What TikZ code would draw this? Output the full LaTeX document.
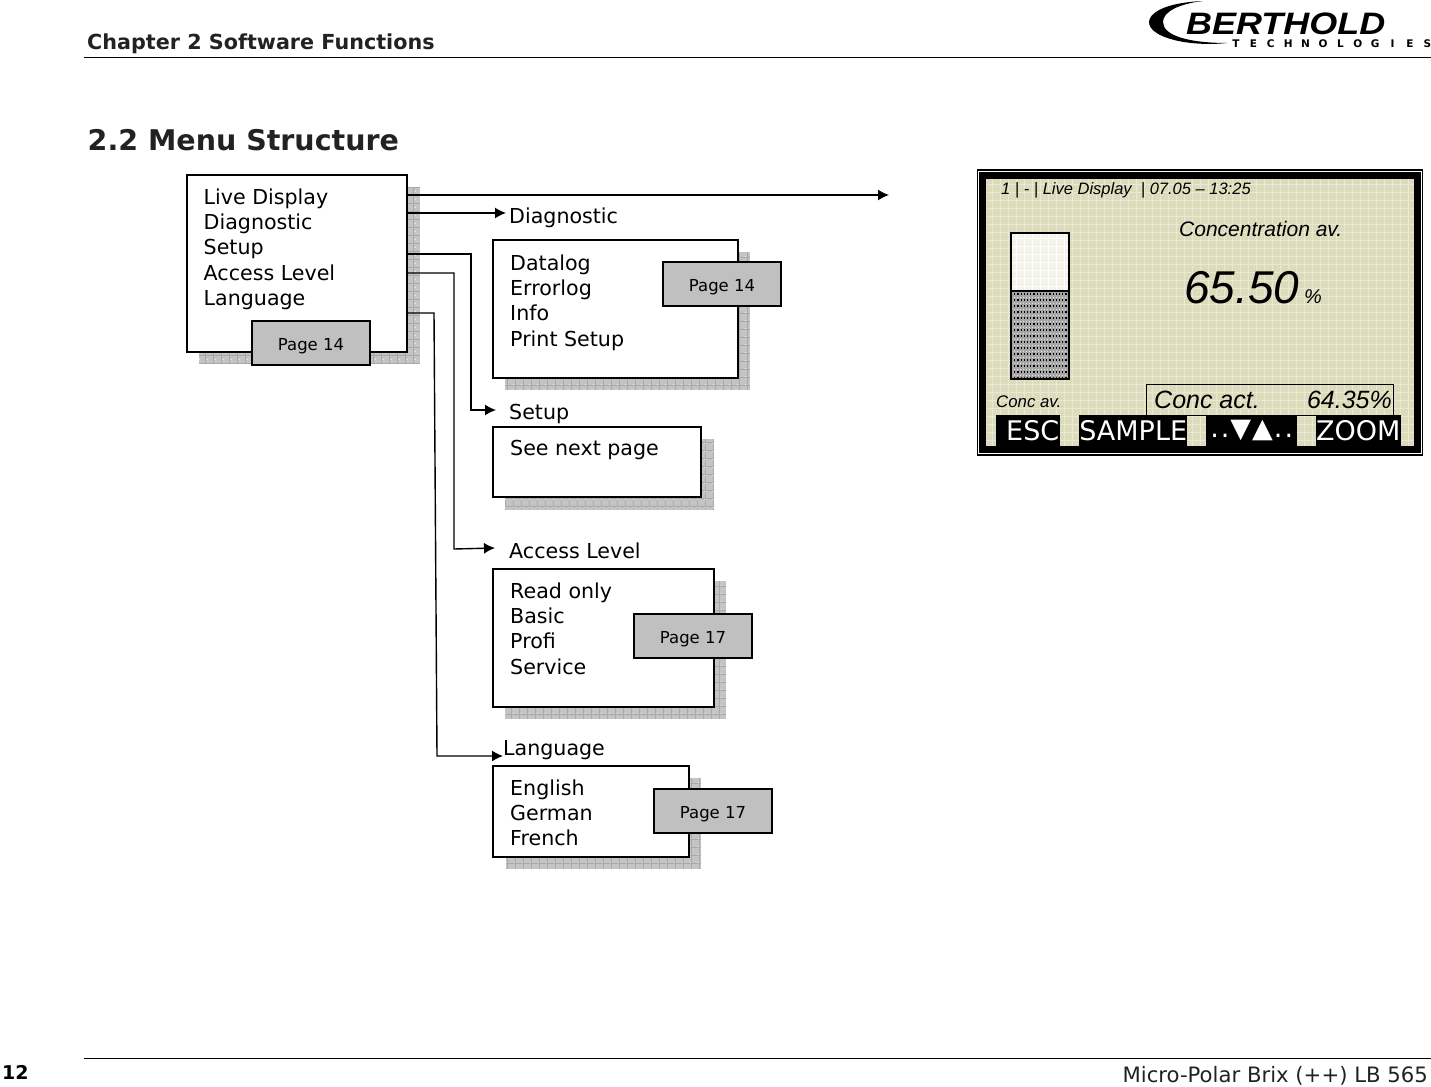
\documentclass[tikz,border=0pt]{standalone}
\usepackage{fontspec}
\setmainfont{DejaVu Sans}
\newfontfamily\lcdfont{Liberation Sans}
\usetikzlibrary{arrows.meta,calc}
\definecolor{shadowgray}{HTML}{C4C4C4}
\definecolor{pagegray}{HTML}{C0C0C0}
\definecolor{lcdgreen}{HTML}{DCDCBC}
\definecolor{headgray}{HTML}{222222}
\begin{document}
\begin{tikzpicture}[x=1pt,y=-1pt,
		menubox/.style={draw,line width=2pt,outer sep=0pt,fill=white,anchor=north west,inner sep=0pt},
		shadowbox/.style={fill=shadowgray,anchor=north west,inner sep=0pt,
				path picture={\draw[black!14!shadowgray,line width=.5pt,step=8pt]
						(path picture bounding box.south west) grid (path picture bounding box.north east);
					\foreach \r in {4,12,...,180}
					\draw[white!70!shadowgray,line width=1pt,dash pattern=on 1pt off 7pt]
					($(path picture bounding box.north west)+(0,\r)$) -- ($(path picture bounding box.north east)+(0,\r)$);}},
		pagebox/.style={draw,line width=1.6pt,outer sep=0pt,fill=pagegray,minimum width=118pt,minimum height=44pt,
				inner sep=0pt,text height=15pt,text depth=0pt,font=\fontsize{16.5}{18}\selectfont,text=black,anchor=north west},
		menutext/.style={anchor=north west,align=left,inner sep=0pt,
				font=\fontsize{20.6}{25.3}\selectfont},
		heading/.style={anchor=base west,inner sep=0pt,font=\fontsize{20.6}{24}\selectfont},
		conn/.style={line width=1.4pt,-{Latex[length=11pt,width=11pt]}},
		lcdtext/.style={anchor=base west,inner sep=0pt},
		softkey/.style={fill=black,text=white,anchor=north west,inner sep=0pt,minimum height=31pt,
				font=\fontsize{27}{30}\selectfont}]
	\useasboundingbox (0,0) rectangle (1431,1086);

	% page head and foot
	\node[anchor=base west,inner sep=0pt,text=headgray,font=\fontsize{20.7}{24}\bfseries\selectfont] (chapter) at (87,50) {Chapter 2 Software Functions};
	\node[anchor=base west,inner sep=0pt,text=headgray,font=\fontsize{28.5}{34}\bfseries\selectfont] (section) at (87.5,151) {2.2 Menu Structure};
	\node[anchor=base west,inner sep=0pt,font=\fontsize{19}{24}\bfseries\selectfont] (pageno) at (2,1079) {12};
	\node[anchor=base east,inner sep=0pt,text=headgray,font=\fontsize{21.2}{24}\selectfont] (manual) at (1428,1082) {Micro-Polar Brix (++) LB 565};
	\draw[line width=.8pt] (84,57) -- (1431,57);
	\draw[line width=.8pt] (84,1058) -- (1431,1058);

	% logo
	\fill (1203,1) .. controls (1160,3) and (1149,15) .. (1149,22)
	.. controls (1149,38) and (1190,47) .. (1227,43)
	.. controls (1190,43) and (1163,36) .. (1163,22)
	.. controls (1163,12) and (1178,4) .. (1203,1);
	\node[anchor=base west,inner sep=0pt,font=\lcdfont\bfseries\itshape\fontsize{31}{34}\selectfont] (logoname) at (1186,35) {\scalebox{1.16}[1]{BERTHOLD}};
	\foreach \c [count=\i from 0] in {T,E,C,H,N,O,L,O,G,I,E,S}
		\node[inner sep=0pt,font=\fontsize{10.5}{11}\bfseries\selectfont] (logo\i) at (1236+17.4*\i,43.5) {\c};

	% menu boxes with their shadows
	\node[shadowbox,minimum width=221pt,minimum height=177pt] (mainshadow) at (199,187) {};
	\node[menubox,minimum width=220pt,minimum height=177pt] (mainbox) at (187,175) {};
	\node[menutext] (maintext) at (203.5,188.5) {Live Display\\Diagnostic\\Setup\\Access Level\\Language};
	\node[pagebox] (mainpage) at (252,321) {Page 14};

	\node[shadowbox,minimum width=245pt,minimum height=138pt] (diagshadow) at (505,252) {};
	\node[menubox,minimum width=245pt,minimum height=138pt] (diagbox) at (493,240) {};
	\node[menutext] (diagtext) at (510,254.5) {Datalog\\Errorlog\\Info\\Print Setup};
	\node[pagebox] (diagpage) at (663,262) {Page 14};
	\node[heading] (diaghead) at (509,223) {Diagnostic};

	\node[shadowbox,minimum width=209pt,minimum height=71pt] (setupshadow) at (505,439) {};
	\node[menubox,minimum width=208pt,minimum height=70pt] (setupbox) at (493,427) {};
	\node[menutext] (setuptext) at (510,440.5) {See next page};
	\node[heading] (setuphead) at (509,419) {Setup};

	\node[shadowbox,minimum width=221pt,minimum height=138pt] (accshadow) at (505,581) {};
	\node[menubox,minimum width=221pt,minimum height=138pt] (accbox) at (493,569) {};
	\node[menutext] (acctext) at (510,582.5) {Read only\\Basic\\Profi\\Service};
	\node[pagebox] (accpage) at (634,614) {Page 17};
	\node[heading] (acchead) at (509,558) {Access Level};

	\node[shadowbox,minimum width=195pt,minimum height=91pt] (langshadow) at (506,778) {};
	\node[menubox,minimum width=196pt,minimum height=91pt] (langbox) at (493,766) {};
	\node[menutext] (langtext) at (510,779.5) {English\\German\\French};
	\node[pagebox] (langpage) at (654,789) {Page 17};
	\node[heading] (langhead) at (503,755) {Language};

	% connectors
	\coordinate (liveout) at (mainbox.east |- 0,195);
	\coordinate (diagout) at (mainbox.east |- 0,213);
	\coordinate (setupout) at (mainbox.east |- 0,254);
	\coordinate (accout) at (mainbox.east |- 0,273);
	\coordinate (langout) at (mainbox.east |- 0,313);
	\coordinate (liveend) at (889,195);
	\coordinate (diagend) at (506,213);
	\coordinate (setupend) at (496,410);
	\coordinate (accend) at (495,548);
	\coordinate (langend) at (503,756);
	\draw[conn] (liveout) -- (liveend);
	\draw[conn] (diagout) -- (diagend);
	\draw[conn] (setupout) -- (471,254) -- (471,410) -- (setupend);
	\draw[conn] (accout) -- (454,273) -- (454,549) -- (accend);
	\draw[conn] (langout) -- (434,313) -- (437,756) -- (langend);

	% display
	\node[draw,line width=1.5pt,outer sep=0pt,fill=white,anchor=north west,inner sep=0pt,minimum width=445pt,minimum height=285pt] (lcdframe) at (977.5,170) {};
	\node[draw,line width=7pt,outer sep=0pt,anchor=north west,inner sep=0pt,minimum width=435pt,minimum height=274pt,fill=lcdgreen,
		path picture={\draw[white!35!lcdgreen,line width=1pt,step=8pt]
				(path picture bounding box.south west) grid (path picture bounding box.north east);}] (lcd) at (982.5,175.5) {};
	\node[lcdtext,font=\lcdfont\itshape\fontsize{16.5}{18}\selectfont] (lcdhead) at (1001,194) {1 | - | Live Display~ | 07.05 – 13:25};
	\node[lcdtext,font=\lcdfont\itshape\fontsize{21}{24}\selectfont] (lcdtitle) at (1179,236) {Concentration av.};
	\node[lcdtext,font=\lcdfont\itshape\fontsize{46}{50}\selectfont] (lcdvalue) at (1184,303) {65.50};
	\node[lcdtext,font=\lcdfont\itshape\fontsize{20}{24}\selectfont] (lcdunit) at (1304,303) {\%};
	\node[draw,line width=1.5pt,outer sep=0pt,anchor=north west,inner sep=0pt,minimum width=58pt,minimum height=58pt,fill=white!70!lcdgreen,
		path picture={\draw[white,line width=1pt,step=8pt]
				(path picture bounding box.south west) grid (path picture bounding box.north east);}] (barup) at (1011,233) {};
	\node[draw,line width=1.5pt,outer sep=0pt,anchor=north west,inner sep=0pt,minimum width=58pt,minimum height=88pt,fill=gray!70,
		path picture={\foreach \r in {3,9,...,87} {
					\draw[black,line width=1.2pt,dotted] ($(path picture bounding box.north west)+(0,\r)$) -- ($(path picture bounding box.north east)+(0,\r)$);
					\draw[white!80!gray,line width=1pt,dotted] ($(path picture bounding box.north west)+(0,\r+3)$) -- ($(path picture bounding box.north east)+(0,\r+3)$);}}] (bardown) at (1011,291) {};
	\node[lcdtext,font=\lcdfont\itshape\fontsize{16.8}{18}\selectfont] (lcdconc) at (996,407.5) {Conc av.};
	\node[draw,line width=1pt,outer sep=0pt,anchor=north west,inner sep=0pt,minimum width=247pt,minimum height=31pt] (actbox) at (1146,384) {};
	\node[lcdtext,font=\lcdfont\itshape\fontsize{25}{28}\selectfont] (actname) at (1154,408.5) {Conc act.};
	\node[lcdtext,anchor=base east,font=\lcdfont\itshape\fontsize{25}{28}\selectfont] (actvalue) at (1392,408.5) {64.35\%};
	\node[softkey,minimum width=64pt] (keyesc) at (996,415) {\hspace*{9pt}ESC};
	\node[softkey,minimum width=108pt] (keysample) at (1079,415) {SAMPLE};
	\node[softkey,minimum width=91pt] (keyarrows) at (1206,415) {.\hspace{2pt}.\hspace{1pt}▼\hspace{1pt}▲\hspace{1pt}.\hspace{2pt}.};
	\node[softkey,minimum width=84pt] (keyzoom) at (1316,415) {ZOOM};
\end{tikzpicture}
\end{document}
